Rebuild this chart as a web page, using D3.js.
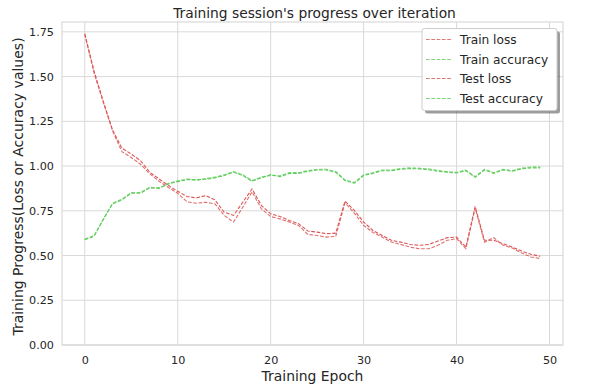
<!DOCTYPE html>
<html>
<head>
<meta charset="utf-8">
<script src="https://cdn.jsdelivr.net/npm/d3@7"></script>
<style>
  html, body { margin: 0; padding: 0; background: #fff; }
  svg { display: block; font-family: "DejaVu Sans", sans-serif; }
</style>
</head>
<body>
<svg id="chart" width="608" height="390"></svg>
<script>
const epochs = d3.range(0, 50);
const trainLoss = [1.74,1.53,1.36,1.20,1.10,1.067,1.03,0.965,0.928,0.891,0.859,0.83,0.822,0.835,0.811,0.742,0.724,0.798,0.872,0.78,0.733,0.718,0.696,0.678,0.637,0.631,0.622,0.625,0.804,0.752,0.687,0.640,0.612,0.585,0.575,0.562,0.557,0.562,0.581,0.600,0.603,0.547,0.774,0.585,0.585,0.566,0.547,0.525,0.507,0.496];
const testLoss  = [1.735,1.52,1.355,1.195,1.08,1.048,1.01,0.956,0.915,0.880,0.848,0.80,0.792,0.798,0.789,0.724,0.687,0.77,0.856,0.761,0.718,0.705,0.687,0.668,0.618,0.612,0.603,0.607,0.795,0.737,0.668,0.629,0.603,0.575,0.562,0.547,0.538,0.538,0.557,0.585,0.594,0.538,0.765,0.575,0.600,0.557,0.542,0.514,0.492,0.483];
const trainAcc  = [0.588,0.607,0.705,0.789,0.811,0.848,0.848,0.878,0.878,0.900,0.913,0.924,0.924,0.926,0.934,0.947,0.965,0.947,0.915,0.934,0.952,0.941,0.959,0.959,0.971,0.978,0.978,0.965,0.919,0.904,0.947,0.959,0.974,0.974,0.982,0.986,0.984,0.980,0.971,0.965,0.961,0.974,0.937,0.978,0.959,0.978,0.971,0.984,0.990,0.990];
const testAcc   = [0.592,0.612,0.700,0.793,0.815,0.852,0.852,0.882,0.874,0.904,0.917,0.928,0.920,0.930,0.938,0.951,0.969,0.951,0.919,0.938,0.948,0.945,0.963,0.963,0.975,0.982,0.982,0.969,0.923,0.908,0.951,0.963,0.978,0.978,0.986,0.990,0.988,0.984,0.975,0.969,0.965,0.978,0.941,0.982,0.963,0.982,0.975,0.988,0.994,0.994];
const seriesNames = ["Train loss","Train accuracy","Test loss","Test accuracy"];
const seriesColors = ["#dc5656","#5fcc5a","#dc5656","#5fcc5a"];
const xTicks = [0,10,20,30,40,50];
const yTicks = [0,0.25,0.5,0.75,1.0,1.25,1.5,1.75];
const titleText = "Training session's progress over iteration";
const xLabel = "Training Epoch";
const yLabel = "Training Progress(Loss or Accuracy values)";

const series = [trainLoss, trainAcc, testLoss, testAcc];

const svg = d3.select("#chart");
const L = 62, R = 563, T = 22, B = 345;
const x = d3.scaleLinear().domain([-2.45, 51.45]).range([L, R]);
const y = d3.scaleLinear().domain([0, 1.805]).range([B, T]);

const textColor = "#262626";
const gridColor = "#d9d9d9";

// grid
svg.append("g").selectAll("line").data(xTicks).join("line")
  .attr("x1", d => x(d)).attr("x2", d => x(d)).attr("y1", T).attr("y2", B)
  .attr("stroke", gridColor).attr("stroke-width", 1);
svg.append("g").selectAll("line").data(yTicks).join("line")
  .attr("x1", L).attr("x2", R).attr("y1", d => y(d)).attr("y2", d => y(d))
  .attr("stroke", gridColor).attr("stroke-width", 1);

// frame
svg.append("rect").attr("x", L).attr("y", T).attr("width", R - L).attr("height", B - T)
  .attr("fill", "none").attr("stroke", gridColor).attr("stroke-width", 1.2);

// axes (labels only)
const xAxis = d3.axisBottom(x).tickValues(xTicks).tickSize(0).tickPadding(11).tickFormat(d3.format("d"));
const gx = svg.append("g").attr("transform", `translate(0,${B})`).call(xAxis);
gx.select(".domain").remove();
gx.selectAll("text").attr("fill", textColor).attr("font-size", 11.2).attr("font-family", "DejaVu Sans");

const yAxis = d3.axisLeft(y).tickValues(yTicks).tickSize(0).tickPadding(8).tickFormat(d3.format(".2f"));
const gy = svg.append("g").attr("transform", `translate(${L},0)`).call(yAxis);
gy.select(".domain").remove();
gy.selectAll("text").attr("fill", textColor).attr("font-size", 11.2).attr("font-family", "DejaVu Sans");

// lines
const line = d3.line().x((d, i) => x(epochs[i])).y(d => y(d));
series.forEach((s, k) => {
  svg.append("path").datum(s).attr("d", line)
    .attr("fill", "none").attr("stroke", seriesColors[k])
    .attr("stroke-width", 1.1).attr("stroke-dasharray", "3.7,1.6")
    .attr("opacity", k < 2 ? 1 : 0.85);
});

// title & labels
svg.append("text").attr("x", (L + R) / 2 + 2).attr("y", 17.5).attr("text-anchor", "middle")
  .attr("font-size", 13.8).attr("fill", textColor).text(titleText);
svg.append("text").attr("x", (L + R) / 2).attr("y", 381).attr("text-anchor", "middle")
  .attr("font-size", 13.9).attr("fill", textColor).text(xLabel);
svg.append("text").attr("transform", `translate(22.5,${(T + B) / 2 + 3}) rotate(-90)`)
  .attr("text-anchor", "middle").attr("font-size", 14).attr("fill", textColor).text(yLabel);

// legend
const lg = svg.append("g");
const lx = 422, ly = 28.5, lw = 135, lh = 82;
lg.append("rect").attr("x", lx + 3).attr("y", ly + 3).attr("width", lw).attr("height", lh)
  .attr("rx", 2.5).attr("fill", "#4d4d4d").attr("opacity", 0.55);
lg.append("rect").attr("x", lx).attr("y", ly).attr("width", lw).attr("height", lh)
  .attr("rx", 2.5).attr("fill", "#fff").attr("stroke", "#cccccc").attr("stroke-width", 1);
seriesNames.forEach((n, k) => {
  const yy = Math.round(ly + 10.5 + k * 19.5) + 0.5;
  lg.append("line").attr("x1", lx + 4).attr("x2", lx + 29).attr("y1", yy).attr("y2", yy)
    .attr("stroke", seriesColors[k]).attr("stroke-width", 1).attr("stroke-dasharray", "3.7,1.6")
    .attr("opacity", 0.8);
  lg.append("text").attr("x", lx + 38).attr("y", yy + 4.5).attr("font-size", 12.2)
    .attr("fill", textColor).text(n);
});
</script>
</body>
</html>
